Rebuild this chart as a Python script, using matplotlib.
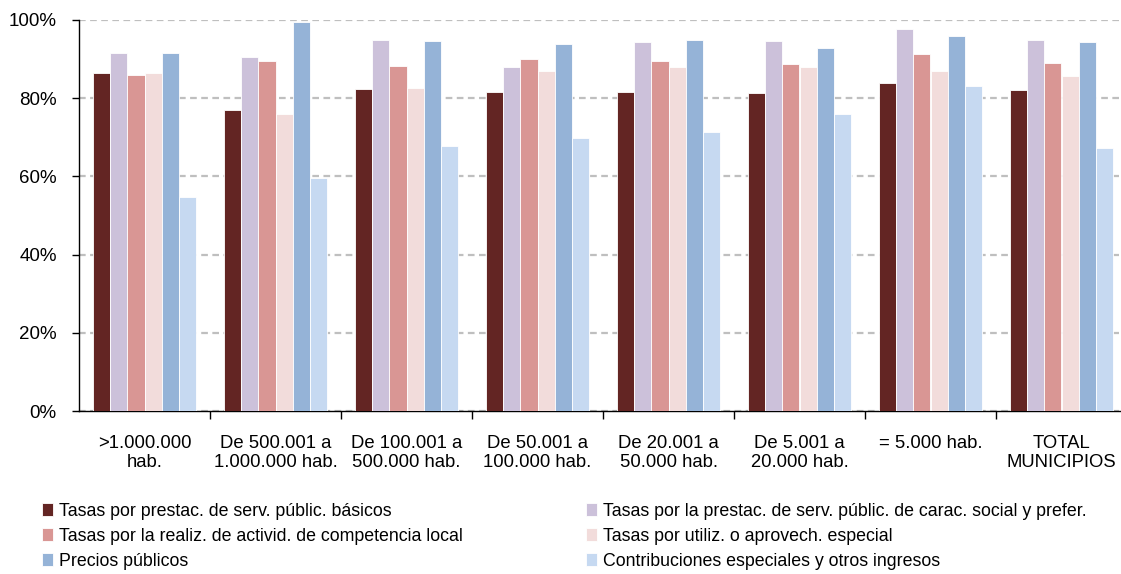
import numpy as np
import matplotlib
matplotlib.use("Agg")
import matplotlib.pyplot as plt
from matplotlib.ticker import FuncFormatter, MultipleLocator

# -------------------------
# Data
# -------------------------
categories = [">1.000.000\nhab.", "De 500.001 a\n1.000.000 hab.", "De 100.001 a\n500.000 hab.",
              "De 50.001 a\n100.000 hab.", "De 20.001 a\n50.000 hab.", "De 5.001 a\n20.000 hab.",
              "= 5.000 hab.", "TOTAL\nMUNICIPIOS"]

series_names = ["Tasas por prestac. de serv. públic. básicos",
                "Tasas por la prestac. de serv. públic. de carac. social y prefer.",
                "Tasas por la realiz. de activid. de competencia local",
                "Tasas por utiliz. o aprovech. especial",
                "Precios públicos",
                "Contribuciones especiales y otros ingresos"]

basicos = [86.4, 77.0, 82.3, 81.6, 81.6, 81.3, 84.0, 82.1]
social = [91.6, 90.5, 94.9, 88.0, 94.3, 94.6, 97.6, 95.0]
competencia = [85.9, 89.5, 88.2, 89.9, 89.6, 88.7, 91.3, 89.0]
utiliz = [86.4, 76.0, 82.6, 87.0, 88.0, 88.0, 87.0, 85.7]
precios = [91.6, 99.5, 94.6, 93.9, 94.9, 92.9, 96.0, 94.3]
contribuciones = [54.7, 59.6, 67.8, 69.8, 71.4, 76.0, 83.0, 67.2]

colors = ["#632523", "#CCC1DA", "#D99694", "#F2DCDB", "#95B3D7", "#C6D9F1"]

plt.rcParams['font.family'] = ['Liberation Sans', 'DejaVu Sans']

fig = plt.figure(figsize=(11.21, 5.74), dpi=100)
ax = fig.add_axes([79 / 1121, 1 - 411 / 574, 1 - 79 / 1121, (411 - 20) / 574])

all_series = [basicos, social, competencia, utiliz, precios, contribuciones]
x = np.arange(len(categories))
bw = 0.13
for i, (vals, c, name) in enumerate(zip(all_series, colors, series_names)):
    ax.bar(x + (i - 2.5) * bw, vals, bw, color=c, edgecolor="white", linewidth=0.6,
           label=name, zorder=3)

# -------------------------
# Axes styling
# -------------------------
ax.set_ylim(0, 100)
ax.set_xlim(-0.5, 7.5 - 6 / 131)
ax.yaxis.set_major_locator(MultipleLocator(20))
ax.yaxis.set_major_formatter(FuncFormatter(lambda v, p: f"{v:.0f}%"))
ax.grid(axis="y", color="#BFBFBF", ls=(0, (3, 2)), lw=1.6, zorder=0)

ax.set_xticks(x)
ax.set_xticklabels(categories, fontsize=13.3, linespacing=1.2)
ax.set_xticks(np.arange(0.5, 7, 1), minor=True)
ax.tick_params(axis="x", which="major", length=0, pad=17)
ax.tick_params(axis="x", which="minor", length=6, width=1, direction="out")
ax.tick_params(axis="y", labelsize=13.5, length=5, width=1, pad=11)

for s in ["top", "right"]:
    ax.spines[s].set_visible(False)
ax.spines["left"].set_linewidth(1)
ax.spines["bottom"].set_linewidth(1)

handles, labels = ax.get_legend_handles_labels()
leg_kw = dict(loc="upper left", ncol=1, frameon=False, fontsize=12.8,
              handlelength=0.62, handleheight=0.75, handletextpad=0.35,
              labelspacing=0.45, borderaxespad=0, borderpad=0)
fig.legend([handles[k] for k in (0, 2, 4)], [labels[k] for k in (0, 2, 4)],
           bbox_to_anchor=(42 / 1121, 1 - 503 / 574), **leg_kw)
fig.legend([handles[k] for k in (1, 3, 5)], [labels[k] for k in (1, 3, 5)],
           bbox_to_anchor=(586 / 1121, 1 - 503 / 574), **leg_kw)

fig.savefig("out.png", dpi=100)
